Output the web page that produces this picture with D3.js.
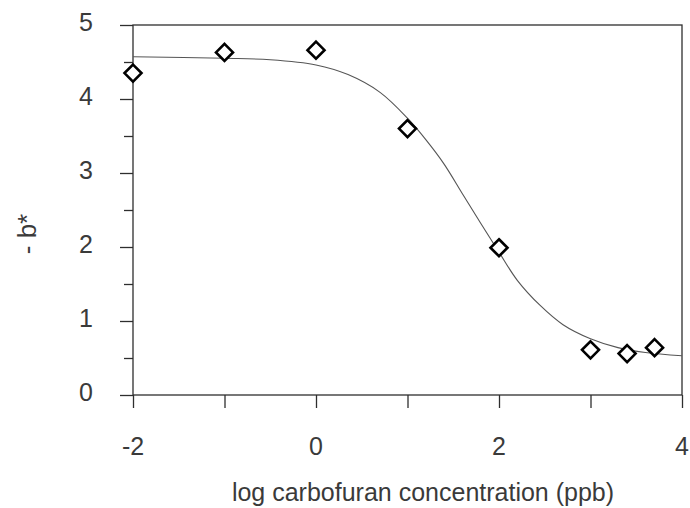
<!DOCTYPE html>
<html><head><meta charset="utf-8">
<script src="https://cdn.jsdelivr.net/npm/d3@7"></script>
<style>body{margin:0;background:#fff;}svg{display:block;}</style>
</head><body>
<script>
// measured data points
const pointX = [-2, -1, 0, 1, 2, 3, 3.4, 3.7];
const pointY = [4.35, 4.63, 4.66, 3.60, 1.99, 0.61, 0.56, 0.64];
// fitted curve
const curveX = [-2, -1, -0.5, 0, 0.35, 0.7, 1.0, 1.2, 1.4, 1.6, 1.8, 2.0, 2.2, 2.45, 2.7, 3.0, 3.3, 3.6, 4.0];
const curveY = [4.57, 4.55, 4.53, 4.46, 4.33, 4.09, 3.74, 3.45, 3.12, 2.72, 2.32, 1.93, 1.55, 1.21, 0.95, 0.76, 0.64, 0.575, 0.53];
const xTicks = [-2, -1, 0, 1, 2, 3, 4];
const xLabels = [-2, 0, 2, 4];
const yTicks = [0, 0.5, 1, 1.5, 2, 2.5, 3, 3.5, 4, 4.5, 5];
const yLabels = [0, 1, 2, 3, 4, 5];
const xTitle = "log carbofuran concentration (ppb)";
const yTitle = "- b*";

const W = 690, H = 508;
const L = 133, R = 682, T = 25, B = 395;
const svg = d3.select("body").append("svg").attr("width", W).attr("height", H);
const x = d3.scaleLinear().domain([-2, 4]).range([L, R]);
const y = d3.scaleLinear().domain([0, 5]).range([B, T]);
const ink = "#2e2e2e";
const txt = "#3a3a3a";
const font = "'Liberation Sans', Arial, sans-serif";

// frame
svg.append("rect").attr("x", L).attr("y", T).attr("width", R - L).attr("height", B - T)
  .attr("fill", "none").attr("stroke", ink).attr("stroke-width", 1.3);

// y axis
const yAx = svg.append("g").attr("transform", `translate(${L},0)`)
  .call(d3.axisLeft(y).tickValues(yTicks).tickSize(0).tickFormat(""));
yAx.select(".domain").remove();
yAx.selectAll(".tick line").attr("x2", d => Number.isInteger(d) ? -13 : -9)
  .attr("stroke", ink).attr("stroke-width", 1.3);
svg.append("g").selectAll("text").data(yLabels).join("text")
  .attr("x", 93).attr("y", d => y(d) + 6)
  .attr("text-anchor", "end").attr("font-family", font).attr("font-size", 25).attr("fill", txt)
  .text(d => d);

// x axis
const xAx = svg.append("g").attr("transform", `translate(0,${B})`)
  .call(d3.axisBottom(x).tickValues(xTicks).tickSize(13).tickFormat(""));
xAx.select(".domain").remove();
xAx.selectAll(".tick line").attr("stroke", ink).attr("stroke-width", 1.3);
svg.append("g").selectAll("text").data(xLabels).join("text")
  .attr("x", d => x(d)).attr("y", 455)
  .attr("text-anchor", "middle").attr("font-family", font).attr("font-size", 25).attr("fill", txt)
  .text(d => d);

// titles
svg.append("text").attr("x", 423).attr("y", 501).attr("text-anchor", "middle")
  .attr("font-family", font).attr("font-size", 25).attr("fill", txt).text(xTitle);
svg.append("text").attr("transform", "translate(36,234) rotate(-90)").attr("text-anchor", "middle")
  .attr("font-family", font).attr("font-size", 26).attr("fill", txt).text(yTitle);

// curve
const curveData = curveX.map((v, i) => [v, curveY[i]]);
svg.append("path").datum(curveData)
  .attr("d", d3.line().x(d => x(d[0])).y(d => y(d[1])).curve(d3.curveCatmullRom))
  .attr("fill", "none").attr("stroke", "#555").attr("stroke-width", 1.1);

// diamonds
const pts = pointX.map((v, i) => [v, pointY[i]]);
svg.append("g").selectAll("path").data(pts).join("path")
  .attr("transform", d => `translate(${x(d[0])},${y(d[1])})`)
  .attr("d", "M0,-8.5L8.5,0L0,8.5L-8.5,0Z")
  .attr("fill", "#fff").attr("stroke", "#000").attr("stroke-width", 2.6);
</script>
</body></html>
